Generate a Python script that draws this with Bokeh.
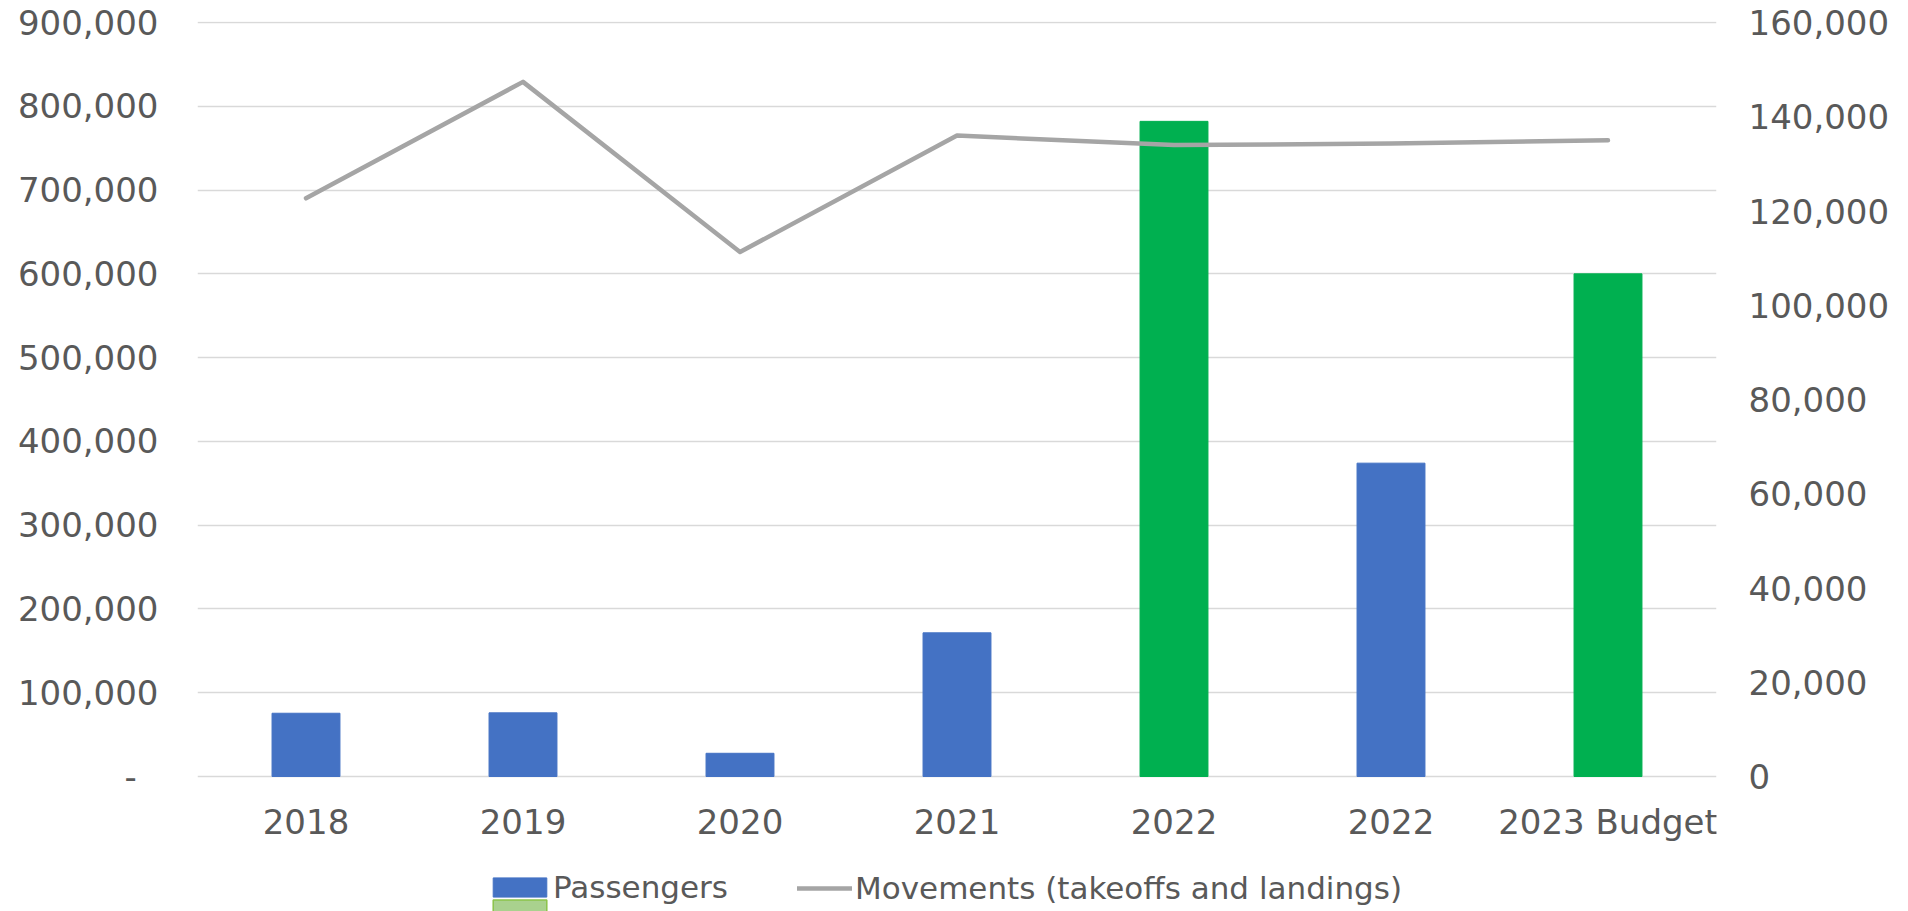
from bokeh.plotting import figure
from bokeh.models import (Range1d, LinearAxis, FixedTicker, NumeralTickFormatter,
                          Legend, LegendItem, ColumnDataSource)
from bokeh.embed import file_html
from bokeh.resources import INLINE

# ---- data ----
categories = ["2018", "2019", "2020", "2021", "2022", "2022", "2023 Budget"]
passengers = [75500, 76000, 27700, 171500, 782000, 374000, 600000]
movements = [122700, 147400, 111300, 136000, 134000, 134300, 135000]
bar_colors = ["#4472C4", "#4472C4", "#4472C4", "#4472C4", "#00B050", "#4472C4", "#00B050"]
left_ticks = [0, 100000, 200000, 300000, 400000, 500000, 600000, 700000, 800000, 900000]
right_ticks = [0, 20000, 40000, 60000, 80000, 100000, 120000, 140000, 160000]

FONT = "DejaVu Sans"
TXT = "#595959"
FS = "34px"

# ---- layout (pixels) ----
W, H = 1908, 911
TOP, ZERO = 21, 776          # frame top, y of the zero line
LEFT, RIGHT = 197, 1716
span_px = ZERO - 22           # pixels between 0 and 900,000
below_px = H - ZERO
L_MAX, R_MAX = 900000, 160000
l_lo = -L_MAX * below_px / span_px
l_hi = L_MAX + L_MAX * (22 - TOP) / span_px
r_lo = -R_MAX * below_px / span_px
r_hi = R_MAX + R_MAX * (22 - TOP) / span_px

xs = list(range(len(categories)))
src = ColumnDataSource(dict(x=xs, p=passengers, m=movements, c=bar_colors,
                            lab=categories, z=[0] * len(xs)))

p = figure(width=W, height=H, output_backend="svg", toolbar_location=None,
           x_range=Range1d(-0.5, len(categories) - 0.5), y_range=Range1d(l_lo, l_hi),
           x_axis_location=None,
           min_border_left=LEFT, min_border_right=W - RIGHT, min_border_top=TOP, min_border_bottom=0,
           outline_line_color=None, background_fill_color="white", border_fill_color="white")
p.extra_y_ranges = {"mov": Range1d(r_lo, r_hi)}

p.ygrid.ticker = FixedTicker(ticks=left_ticks)
p.ygrid.grid_line_color = "#D9D9D9"
p.ygrid.grid_line_width = 1.5
p.xgrid.visible = False

bars = p.vbar(x="x", top="p", width=0.313, color="c", source=src)
line = p.line(x="x", y="m", y_range_name="mov", line_color="#A5A5A5", line_width=4.5,
              line_cap="round", line_join="round", source=src)

# category labels under the zero line
p.text(x="x", y="z", text="lab", source=src, y_offset=45, text_align="center",
       text_baseline="middle", text_font={"value": FONT}, text_font_size=FS, text_color=TXT)

# left axis
ya = p.yaxis[0]
ya.ticker = FixedTicker(ticks=left_ticks)
ya.formatter = NumeralTickFormatter(format="0,0")
ya.major_label_overrides = {0: "-\u00a0\u00a0"}
ya.axis_line_color = None
ya.major_tick_line_color = None
ya.minor_tick_line_color = None
ya.major_label_standoff = 33
ya.major_label_text_font = FONT
ya.major_label_text_font_size = FS
ya.major_label_text_color = TXT

# right axis
ra = LinearAxis(y_range_name="mov", ticker=FixedTicker(ticks=right_ticks),
                formatter=NumeralTickFormatter(format="0,0"))
ra.axis_line_color = None
ra.major_tick_line_color = None
ra.minor_tick_line_color = None
ra.major_label_standoff = 26
ra.major_label_text_font = FONT
ra.major_label_text_font_size = FS
ra.major_label_text_color = TXT
p.add_layout(ra, "right")

# legends
common = dict(padding=0, margin=0, border_line_color=None, background_fill_alpha=0,
              label_text_font=FONT, label_text_font_size="31px", label_text_color=TXT)

leg_p = Legend(items=[LegendItem(label="Passengers", renderers=[bars])],
               location=(289, 6), glyph_width=67, glyph_height=24, label_standoff=0, **common)
p.add_layout(leg_p, "center")

leg_m = Legend(items=[LegendItem(label="Movements (takeoffs and landings)", renderers=[line])],
               location=(600, 5), glyph_width=55, glyph_height=24, label_standoff=3, **common)
p.add_layout(leg_m, "center")

green_r = p.vbar(x=[0], top=[0], width=0, fill_color="#A9D18E", line_color="#8BC34A", line_width=1.5)
leg_g = Legend(items=[LegendItem(label="", renderers=[green_r])],
               location=(289, -10), glyph_width=67, glyph_height=24, **common)
p.add_layout(leg_g, "center")

open("out.html", "w").write(file_html(p, INLINE))
